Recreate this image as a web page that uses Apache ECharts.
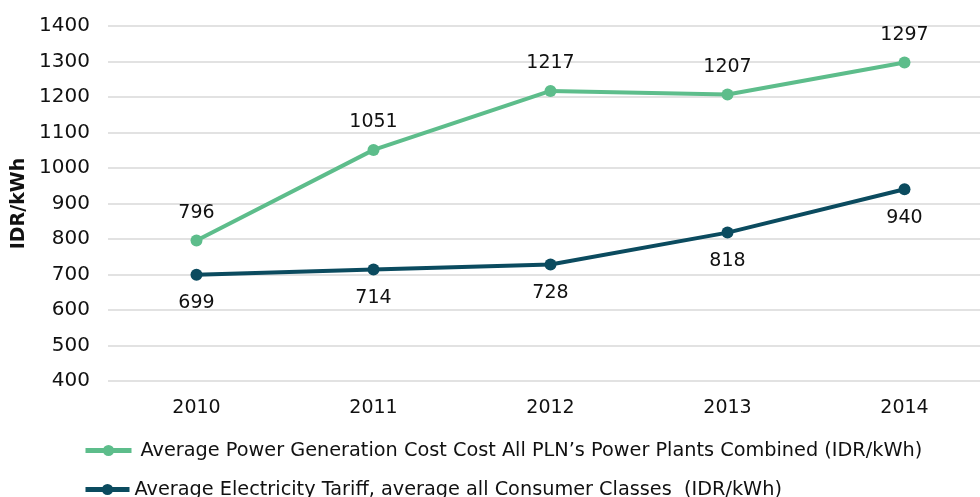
<!DOCTYPE html>
<html>
<head>
<meta charset="utf-8">
<script src="https://cdn.jsdelivr.net/npm/echarts@6/dist/echarts.min.js"></script>
<style>
  html, body { margin: 0; padding: 0; background: #fff; }
  #main { width: 980px; height: 497px; }
</style>
</head>
<body>
<div id="main"></div>
<script>
    var years = ['2010', '2011', '2012', '2013', '2014'];
    var genCost = [796, 1051, 1217, 1207, 1297];
    var tariff = [699, 714, 728, 818, 940];
    var genName = 'Average Power Generation Cost Cost All PLN\u2019s Power Plants Combined (IDR/kWh)';
    var tariffName = 'Average Electricity Tariff, average all Consumer Classes  (IDR/kWh)';

    var green = '#5dbd8b',
        dark = '#0b4b5f',
        font = 'DejaVu Sans';

    var chart = echarts.init(document.getElementById('main'));
    var option = {
        animation: false,
        textStyle: { fontFamily: font },
        grid: {
            left: 108,
            top: 26,
            width: 885,
            bottom: 116,
            outerBoundsMode: 'none'
        },
        legend: [
            {
                left: 78,
                top: 436,
                itemWidth: 46,
                itemHeight: 14,
                lineStyle: { width: 5 },
                textStyle: { fontFamily: font, fontSize: 19.3, color: '#111', padding: [0, 0, 0, 4] },
                data: [genName]
            },
            {
                left: 78,
                top: 475,
                itemWidth: 44,
                itemHeight: 14,
                lineStyle: { width: 5 },
                textStyle: { fontFamily: font, fontSize: 19.3, color: '#111' },
                data: [tariffName]
            }
        ],
        xAxis: {
            type: 'category',
            data: years,
            axisLine: { show: false },
            axisTick: { show: false },
            axisLabel: { fontSize: 19, color: '#111', margin: 18 }
        },
        yAxis: {
            type: 'value',
            min: 400,
            max: 1400,
            interval: 100,
            name: 'IDR/kWh',
            nameLocation: 'middle',
            nameGap: 58,
            nameTextStyle: { fontSize: 19, fontWeight: 'bold', color: '#111' },
            axisLabel: {
                fontSize: 20, color: '#111', margin: 18,
                formatter: function (v) { return String(v); }
            },
            splitLine: { lineStyle: { color: '#d9d9d9', width: 1.5 } }
        },
        series: [
            {
                name: genName,
                type: 'line',
                data: genCost,
                symbol: 'circle',
                symbolSize: 12,
                color: green,
                lineStyle: { width: 4, color: green },
                label: { show: true, position: 'top', distance: 12, fontSize: 19, color: '#111' }
            },
            {
                name: tariffName,
                type: 'line',
                data: tariff,
                symbol: 'circle',
                symbolSize: 12,
                color: dark,
                lineStyle: { width: 4, color: dark },
                label: { show: true, position: 'bottom', distance: 13, fontSize: 19, color: '#111' }
            }
        ]
    };
    chart.setOption(option);
</script>
</body>
</html>
